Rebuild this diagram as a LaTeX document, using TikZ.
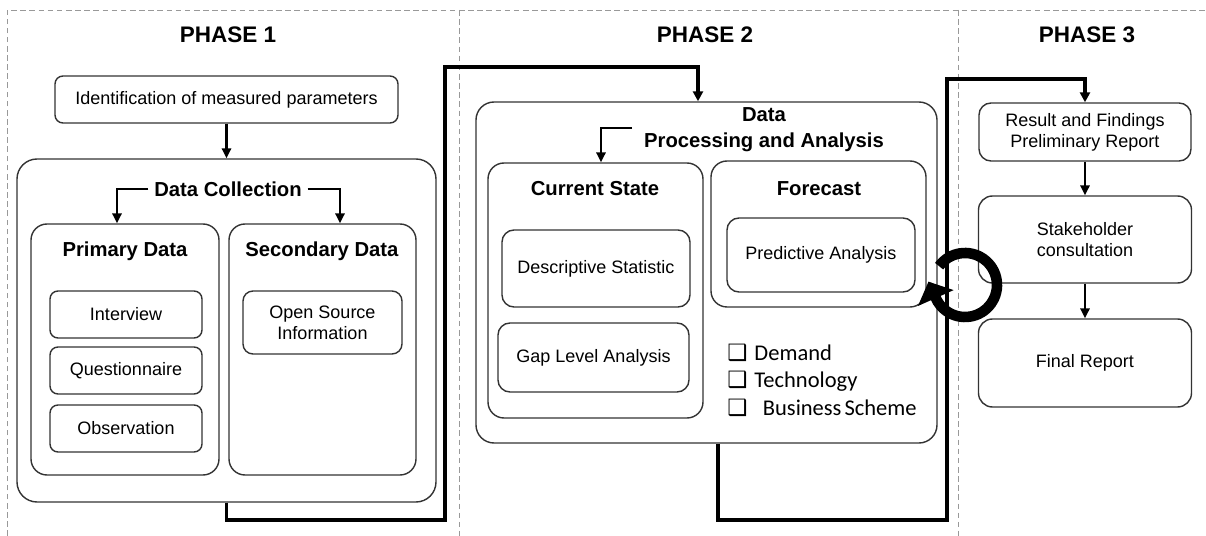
\documentclass[tikz,border=0pt]{standalone}
\usepackage{fontspec}
\setmainfont{Liberation Sans}
\newfontfamily\calibri{Carlito}
\newfontfamily\symfont{DejaVu Sans}
\usetikzlibrary{arrows.meta}
\usetikzlibrary{positioning}

\tikzset{
  box/.style={draw=black!80, line width=1pt, align=center, inner sep=0pt, font=\fontsize{12.8}{15}\selectfont},
  boxsize/.style 2 args={minimum width=#1*0.025cm, minimum height=#2*0.025cm},
  head/.style={font=\bfseries\fontsize{14.4}{18.5}\selectfont, align=center, inner sep=0pt},
  phase/.style={font=\bfseries\fontsize{16}{19}\selectfont, inner sep=0pt},
  arr/.style={line width=1.6pt, -{Triangle[length=7pt,width=6.5pt]}},
  flow/.style={line width=2.4pt, -{Triangle[length=7pt,width=7pt]}},
  divider/.style={draw=black!40, line width=0.6pt, dash pattern=on 4pt off 2.5pt},
  listitem/.style={anchor=west, inner sep=0pt, font=\calibri\fontsize{16}{19}\selectfont},
}
\newcommand{\cbox}{{\symfont ❑}}

\begin{document}
\begin{tikzpicture}[x=0.025cm, y=-0.025cm]
\useasboundingbox (0,0) rectangle (1206,536);

% dashed phase frame
\draw[divider] (7,536) -- (7,10) -- (1206,10);
\draw[divider] (459,10) -- (459,536);
\draw[divider] (958,10) -- (958,536);

\node[phase] (ph1) at (228,35) {PHASE 1};
\node[phase] (ph2) at (705,35) {PHASE 2};
\node[phase] (ph3) at (1087,35) {PHASE 3};

% phase 1
\node[box, rounded corners=0.2cm, boxsize={343}{47}] (ident) at (226.5,99.5) {Identification of measured parameters};
\node[box, rounded corners=0.5cm, boxsize={419}{343}] (collect) at (226.5,330.5) {};
\node[head] (collectlbl) at (228,189) {Data Collection};
\node[box, rounded corners=0.4cm, boxsize={188}{251}] (primary) at (125,349.5) {};
\node[box, rounded corners=0.4cm, boxsize={187}{251}] (secondary) at (322.5,349.5) {};
\node[head] (primarylbl) at (125,251) {Primary Data};
\node[head] (secondarylbl) at (322,251) {Secondary Data};
\node[box, rounded corners=0.2cm, boxsize={152}{47}] (interview) at (126,314.5) {Interview};
\node[box, rounded corners=0.2cm, boxsize={152}{47}] (question) at (126,370.5) {Questionnaire};
\node[box, rounded corners=0.2cm, boxsize={152}{47}] (observ) at (126,428.5) {Observation};
\node[box, rounded corners=0.25cm, boxsize={159}{63}] (opensrc) at (322.5,322.5) {Open Source\\Information};

\draw[arr] (ident.south) -- (collect.north);
\draw[arr] ([xshift=-4pt]collectlbl.west) -| ([xshift=-8*0.025cm]primary.north);
\draw[arr] ([xshift=4pt]collectlbl.east) -| ([xshift=17.5*0.025cm]secondary.north);

% phase 2
\node[box, rounded corners=0.45cm, boxsize={461}{341}] (process) at (706.5,272.5) {};
\node[head] (processlbl) at (764,130) {Data\\Processing and Analysis};
\node[box, rounded corners=0.4cm, boxsize={215}{255}] (current) at (595.5,290.5) {};
\node[box, rounded corners=0.4cm, boxsize={215}{146}] (forecast) at (818.5,234) {};
\node[head] (currentlbl) at (595,189) {Current State};
\node[head] (forecastlbl) at (819,189) {Forecast};
\node[box, rounded corners=0.3cm, boxsize={188}{77}] (descr) at (596,268.5) {Descriptive Statistic};
\node[box, rounded corners=0.3cm, boxsize={191}{69}] (gap) at (593.5,357.5) {Gap Level Analysis};
\node[box, rounded corners=0.3cm, boxsize={188}{74}] (predict) at (821,255) {Predictive Analysis};
\node[listitem] (demand) at (727,353) {\cbox\hspace{5pt}Demand};
\node[listitem] (techno) at (727,381) {\cbox\hspace{5pt}Technology};
\node[listitem] (business) at (727,408) {\cbox\hspace{11pt}Business\hspace{-1.5pt} Scheme};

\coordinate (pbend) at (632,128);
\draw[arr] (pbend) -| ([xshift=5.5*0.025cm]current.north);

% phase 3
\node[box, rounded corners=0.3cm, boxsize={212}{58}] (result) at (1085,132) {Result and Findings\\Preliminary Report};
\node[box, rounded corners=0.35cm, boxsize={213}{87}] (stake) at (1085,239.5) {Stakeholder\\consultation};
\node[box, rounded corners=0.35cm, boxsize={213}{88}] (final) at (1085,363) {Final Report};

\draw[arr] (result.south) -- (stake.north);
\draw[arr] (stake.south) -- (final.north);

% links between phases
\coordinate (c1) at (445,520);
\coordinate (c2) at (445,67);
\draw[flow] (collect.south) |- (c1) -- (c2) -| ([xshift=-8.5*0.025cm]process.north);
\coordinate (c3) at (947,520);
\coordinate (c4) at (947,79);
\draw[flow] ([xshift=11.5*0.025cm]process.south) |- (c3) -- (c4) -| (result.north);

% feedback loop
\coordinate (loop) at (965,285);
\draw[line width=7.5pt, -{Triangle[length=12.8pt,width=27pt]}] ([shift={(-144:32)}]loop) arc[start angle=-144, end angle=156, radius=32] -- ++(-7.3,-16.4);
\end{tikzpicture}
\end{document}
